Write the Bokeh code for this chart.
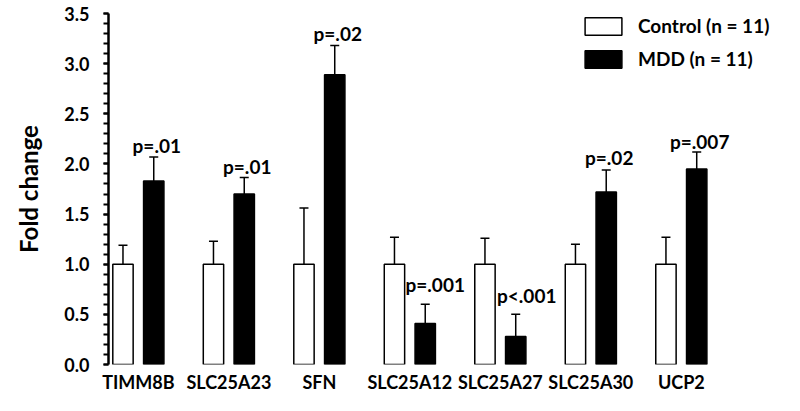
import numpy as np
from bokeh.plotting import figure
from bokeh.models import ColumnDataSource, Whisker, TeeHead, FixedTicker, Range1d, Legend
from bokeh.core.properties import value
from bokeh.embed import file_html
from bokeh.resources import INLINE

genes = ["TIMM8B", "SLC25A23", "SFN", "SLC25A12", "SLC25A27", "SLC25A30", "UCP2"]
control = [1.0, 1.0, 1.0, 1.0, 1.0, 1.0, 1.0]
control_err = [0.19, 0.23, 0.56, 0.27, 0.26, 0.20, 0.27]
mdd = [1.83, 1.70, 2.89, 0.41, 0.28, 1.72, 1.95]
mdd_err = [0.24, 0.165, 0.29, 0.19, 0.22, 0.22, 0.17]
p_labels = ["p=.01", "p=.01", "p=.02", "p=.001", "p<.001", "p=.02", "p=.007"]

# label placement (screen px offsets)
label_dx = [3, 3, 3, 10, 11, 3, 3]
label_dy = [-11, -11, -12, -20, -19, -12, -10]

FONT = "Lato"
W, H = 784, 395
BL, BT, BB = 108, 13, 28
idx = np.arange(len(genes))
shift = 0.17
bw = 0.225

ctrl_src = ColumnDataSource(dict(
    x=idx - shift, top=control,
    upper=np.array(control) + np.array(control_err)))
mdd_src = ColumnDataSource(dict(
    x=idx + shift, top=mdd,
    upper=np.array(mdd) + np.array(mdd_err),
    label=p_labels, dx=label_dx, dy=label_dy))

p = figure(width=W, height=H, output_backend="svg", toolbar_location=None,
           x_range=Range1d(-0.33, 7.14), y_range=Range1d(0, 3.5),
           min_border_left=BL, min_border_right=0, min_border_top=BT,
           min_border_bottom=BB)
p.outline_line_color = None
p.xgrid.grid_line_color = None
p.ygrid.grid_line_color = None
p.background_fill_color = "white"

r1 = p.vbar(x="x", top="top", width=bw, source=ctrl_src, fill_color="white",
            line_color="black", line_width=1.5)
r2 = p.vbar(x="x", top="top", width=bw, source=mdd_src, fill_color="black",
            line_color="black", line_width=1.5)

for src in (ctrl_src, mdd_src):
    w = Whisker(source=src, base="x", lower="top", upper="upper",
                line_width=1.5, line_color="black",
                upper_head=TeeHead(size=9, line_width=1.5, line_color="black"),
                lower_head=None, level="underlay")
    p.add_layout(w)

p.text(x="x", y="upper", text="label", source=mdd_src, x_offset="dx", y_offset="dy",
       text_align="center", text_baseline="alphabetic",
       text_font=value(FONT), text_font_style="bold", text_font_size="19px",
       text_color="black")

# y axis
ya = p.yaxis[0]
major = [0, 0.5, 1.0, 1.5, 2.0, 2.5, 3.0, 3.5]
ya.ticker = FixedTicker(ticks=major, minor_ticks=[round(v * 0.1, 1) for v in range(36)])
ya.major_label_overrides = {v: f"{v:.1f}" for v in major}
ya.axis_line_width = 2.5
ya.axis_line_color = "black"
ya.major_tick_out = 5
ya.major_tick_in = 0
ya.minor_tick_out = 5
ya.minor_tick_in = 0
ya.major_tick_line_width = 2
ya.minor_tick_line_width = 2
ya.major_label_standoff = 14
ya.major_label_text_font = FONT
ya.major_label_text_font_style = "bold"
ya.major_label_text_font_size = "18px"
ya.major_label_text_color = "black"
ya.axis_label = "Fold change"
ya.axis_label_text_font = FONT
ya.axis_label_text_font_style = "bold"
ya.axis_label_text_font_size = "24px"
ya.axis_label_text_color = "black"
ya.axis_label_standoff = 18

# x axis
xa = p.xaxis[0]
xa.ticker = FixedTicker(ticks=list(idx))
xa.major_label_overrides = {int(i): g for i, g in zip(idx, genes)}
xa.axis_line_color = None
xa.major_tick_line_color = None
xa.minor_tick_line_color = None
xa.major_tick_out = 0
xa.major_tick_in = 0
xa.minor_tick_out = 0
xa.minor_tick_in = 0
xa.major_label_standoff = 6
xa.major_label_text_font = FONT
xa.major_label_text_font_style = "bold"
xa.major_label_text_font_size = "18px"
xa.major_label_text_color = "black"

frame_h = H - BT - BB
pad = 3
item_h = 25
leg_h = item_h * 2 + 8 + 2 * pad
legend = Legend(items=[("Control (n = 11)", [r1]), ("MDD (n = 11)", [r2])],
                location=(475 - pad, frame_h - leg_h + pad), glyph_width=46, glyph_height=22,
                label_height=item_h, spacing=8, padding=pad, margin=0,
                label_standoff=12, border_line_color=None,
                background_fill_alpha=0,
                label_text_font=FONT, label_text_font_style="bold",
                label_text_font_size="19px", label_text_color="black")
p.add_layout(legend)

open("out.html", "w").write(file_html(p, INLINE))
